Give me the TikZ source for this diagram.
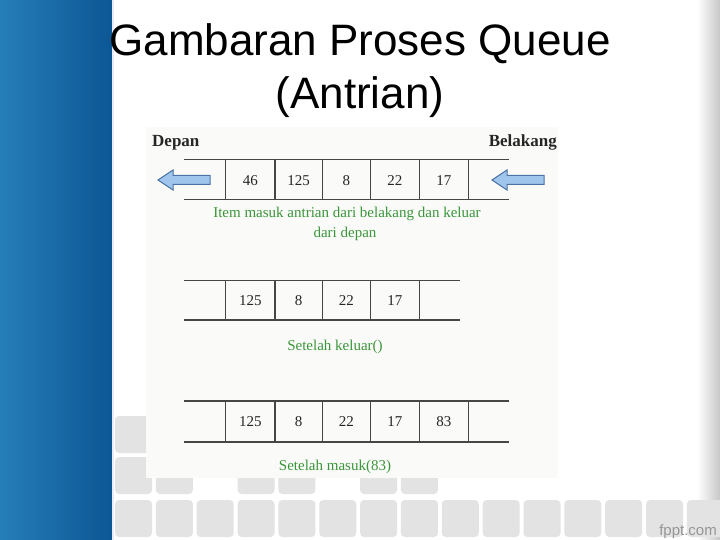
\documentclass[tikz,border=0pt]{standalone}
\usepackage{fontspec}
\setmainfont{Liberation Serif}
\newfontfamily\titlefont{Liberation Sans}
\definecolor{bluel}{RGB}{38,126,184}
\definecolor{blued}{RGB}{12,86,148}
\definecolor{sqcol}{RGB}{227,227,227}
\definecolor{panelcol}{RGB}{250,250,248}
\definecolor{grn}{RGB}{58,150,58}
\definecolor{arrfill}{RGB}{160,198,238}
\definecolor{arrline}{RGB}{75,115,165}
\definecolor{qline}{RGB}{70,70,70}
\definecolor{fpptgray}{RGB}{150,150,150}
\tikzset{
  titletext/.style={font=\titlefont\fontsize{44}{52}\selectfont, text=black, anchor=base, inner sep=0pt},
  headtext/.style={font=\bfseries\fontsize{17}{20}\selectfont, text=black!85, inner sep=0pt},
  numtext/.style={font=\fontsize{15}{18}\selectfont, text=black!85, anchor=base, inner sep=0pt},
  greentext/.style={font=\fontsize{15}{18}\selectfont, text=grn, anchor=base, inner sep=0pt},
  qrule/.style={draw=qline, line width=1.4pt},
  qdiv/.style={draw=qline, line width=1.1pt},
  bigarrow/.style={fill=arrfill, draw=arrline, line width=1pt, line join=miter},
  tile/.style={fill=sqcol, rounded corners=4pt}
}
\begin{document}
\begin{tikzpicture}[x=1pt,y=-1pt]
\useasboundingbox (0,0) rectangle (720,540);
% background
\fill[white] (0,0) rectangle (720,540);
\shade[left color=bluel, right color=blued] (0,0) rectangle (112,540);
\fill[blue!8] (112,0) rectangle (114,540);
\shade[left color=white, right color=black!22] (697,0) rectangle (720,540);
% tiles
\foreach \i in {0,...,14} {
  \fill[tile] ({115+40.85*\i},500) rectangle +(37,37);
}
\foreach \i in {0,1,3,4,6,7} {
  \fill[tile] ({115+40.85*\i},457) rectangle +(37,37);
}
\fill[tile] (115,416) rectangle +(37,37);
% title
\node[titletext] (title1) at (360,56) {Gambaran Proses Queue};
\node[titletext] (title2) at (360,109) {(Antrian)};
% picture panel
\fill[panelcol] (146,127) rectangle (558,478);
% headers
\node[headtext, anchor=base west] (depan) at (152,146.5) {Depan};
\node[headtext, anchor=base east] (belakang) at (557,146.5) {Belakang};
% row 1
\draw[qrule] (184,159.3) -- (509,159.3);
\draw[qrule] (184,199.3) -- (509,199.3);
\foreach \x in {225.7,275,322.3,370.3,419.3,468.3} {
  \draw[qdiv] (\x,159.3) -- (\x,199.3);
}
\node[numtext] (r1a) at (250.3,185.5) {46};
\node[numtext] (r1b) at (298.7,185.5) {125};
\node[numtext] (r1c) at (346.3,185.5) {8};
\node[numtext] (r1d) at (394.8,185.5) {22};
\node[numtext] (r1e) at (443.8,185.5) {17};
\draw[bigarrow] (158,180) -- (173,170) -- (173,175.5) -- (210,175.5) -- (210,184.5) -- (173,184.5) -- (173,190) -- cycle;
\draw[bigarrow] (492,180) -- (507,170) -- (507,175.5) -- (544,175.5) -- (544,184.5) -- (507,184.5) -- (507,190) -- cycle;
\node[greentext] (cap1a) at (347,218) {Item masuk antrian dari belakang dan keluar};
\node[greentext] (cap1b) at (345,237) {dari depan};
% row 2
\draw[qrule] (184,280.7) -- (460,280.7);
\draw[qrule] (184,320) -- (460,320);
\foreach \x in {225.7,275,322.3,370.3,419.3} {
  \draw[qdiv] (\x,280.7) -- (\x,320);
}
\node[numtext] (r2a) at (250.3,305.5) {125};
\node[numtext] (r2b) at (298.7,305.5) {8};
\node[numtext] (r2c) at (346.3,305.5) {22};
\node[numtext] (r2d) at (394.8,305.5) {17};
\node[greentext] (cap2) at (335,350) {Setelah keluar()};
% row 3
\draw[qrule] (184,401) -- (509,401);
\draw[qrule] (184,442) -- (509,442);
\foreach \x in {225.7,275,322.3,370.3,419.3,468.3} {
  \draw[qdiv] (\x,401) -- (\x,442);
}
\node[numtext] (r3a) at (250.3,426.5) {125};
\node[numtext] (r3b) at (298.7,426.5) {8};
\node[numtext] (r3c) at (346.3,426.5) {22};
\node[numtext] (r3d) at (394.8,426.5) {17};
\node[numtext] (r3e) at (443.8,426.5) {83};
\node[greentext] (cap3) at (335,470) {Setelah masuk(83)};
% footer
\node[font=\titlefont\fontsize{15}{18}\selectfont, text=fpptgray, anchor=base east, inner sep=0pt] (fppt) at (717,535) {fppt.com};
\end{tikzpicture}
\end{document}
